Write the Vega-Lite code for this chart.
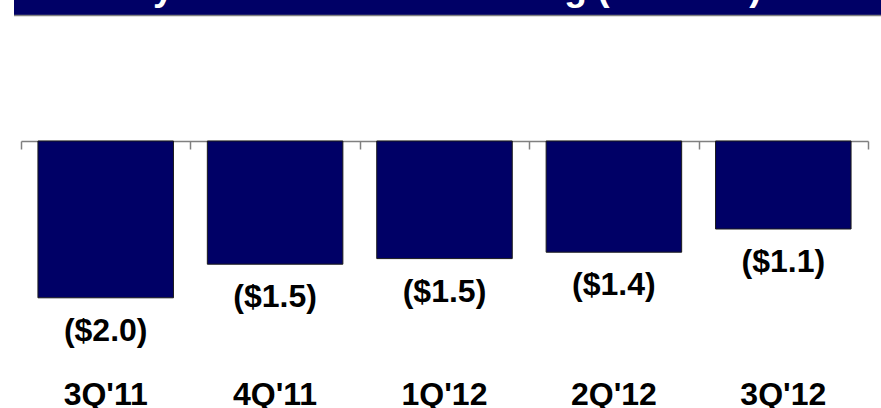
{
  "$schema": "https://vega.github.io/schema/vega-lite/v6.json",
  "width": 867,
  "height": 408,
  "autosize": {"type": "none"},
  "padding": {"left": 14, "top": 0, "right": 0, "bottom": 0},
  "background": "white",
  "config": {"view": {"stroke": null}, "font": "Liberation Sans"},
  "data": {"values": [
    {"q": "3Q'11", "v": -1.96, "lab": "($2.0)"},
    {"q": "4Q'11", "v": -1.54, "lab": "($1.5)"},
    {"q": "1Q'12", "v": -1.47, "lab": "($1.5)"},
    {"q": "2Q'12", "v": -1.39, "lab": "($1.4)"},
    {"q": "3Q'12", "v": -1.10, "lab": "($1.1)"}
  ]},
  "resolve": {"scale": {"x": "independent"}, "axis": {"x": "independent"}},
  "layer": [
    {
      "data": {"values": [{}]},
      "mark": {"type": "rect", "color": "#000066"},
      "encoding": {
        "y": {"datum": 1.7625, "type": "quantitative", "scale": {"domain": [-3.3375, 1.7625], "nice": false, "zero": false}, "axis": null},
        "y2": {"datum": 1.575}
      }
    },
    {
      "data": {"values": [{}]},
      "mark": {"type": "rule", "color": "#808080", "strokeWidth": 1.5},
      "encoding": {
        "y": {"datum": 1.56875, "type": "quantitative", "scale": {"domain": [-3.3375, 1.7625], "nice": false, "zero": false}, "axis": null}
      }
    },
    {
      "data": {"values": [{"t": "Treasury Net Effect of Marketing (millions)"}]},
      "mark": {"type": "text", "font": "Liberation Sans", "fontWeight": "bold", "fontSize": 37, "color": "white", "baseline": "alphabetic", "align": "center", "dx": -57},
      "encoding": {
        "y": {"datum": 1.7625, "type": "quantitative", "scale": {"domain": [-3.3375, 1.7625], "nice": false, "zero": false}, "axis": null},
        "text": {"field": "t", "type": "nominal"}
      }
    },
    {
      "mark": {"type": "bar", "color": "#000066", "stroke": "#1a1a1a", "strokeWidth": 1},
      "encoding": {
        "x": {"field": "q", "type": "nominal", "sort": null, "scale": {"range": [7, 854], "paddingInner": 0.2, "paddingOuter": 0.1}, "axis": null},
        "y": {"field": "v", "type": "quantitative", "scale": {"domain": [-3.3375, 1.7625], "nice": false, "zero": false},
              "axis": {"orient": "left", "domain": true, "domainColor": "#000000", "domainWidth": 2, "ticks": false, "labels": false, "grid": false, "title": null}}
      }
    },
    {
      "mark": {"type": "text", "font": "Liberation Sans", "fontWeight": "bold", "fontSize": 32, "color": "#000000", "baseline": "top", "align": "center", "dy": 18},
      "encoding": {
        "x": {"field": "q", "type": "nominal", "sort": null, "scale": {"range": [7, 854], "paddingInner": 0.2, "paddingOuter": 0.1}, "axis": null},
        "y": {"field": "v", "type": "quantitative", "scale": {"domain": [-3.3375, 1.7625], "nice": false, "zero": false}, "axis": null},
        "text": {"field": "lab", "type": "nominal"}
      }
    },
    {
      "mark": {"type": "text", "font": "Liberation Sans", "fontWeight": "bold", "fontSize": 32, "color": "#000000", "baseline": "alphabetic", "align": "center"},
      "encoding": {
        "x": {"field": "q", "type": "nominal", "sort": null, "scale": {"range": [7, 854], "paddingInner": 0, "paddingOuter": 0},
              "axis": {"orient": "bottom", "offset": {"expr": "scale('y', 0) - height"}, "tickBand": "extent", "labels": false, "title": null, "grid": false,
                       "domainColor": "#808080", "domainWidth": 1.5, "tickColor": "#808080", "tickWidth": 1.5, "tickSize": 8}},
        "y": {"datum": -3.305, "type": "quantitative", "scale": {"domain": [-3.3375, 1.7625], "nice": false, "zero": false}, "axis": null},
        "text": {"field": "q", "type": "nominal"}
      }
    }
  ]
}
